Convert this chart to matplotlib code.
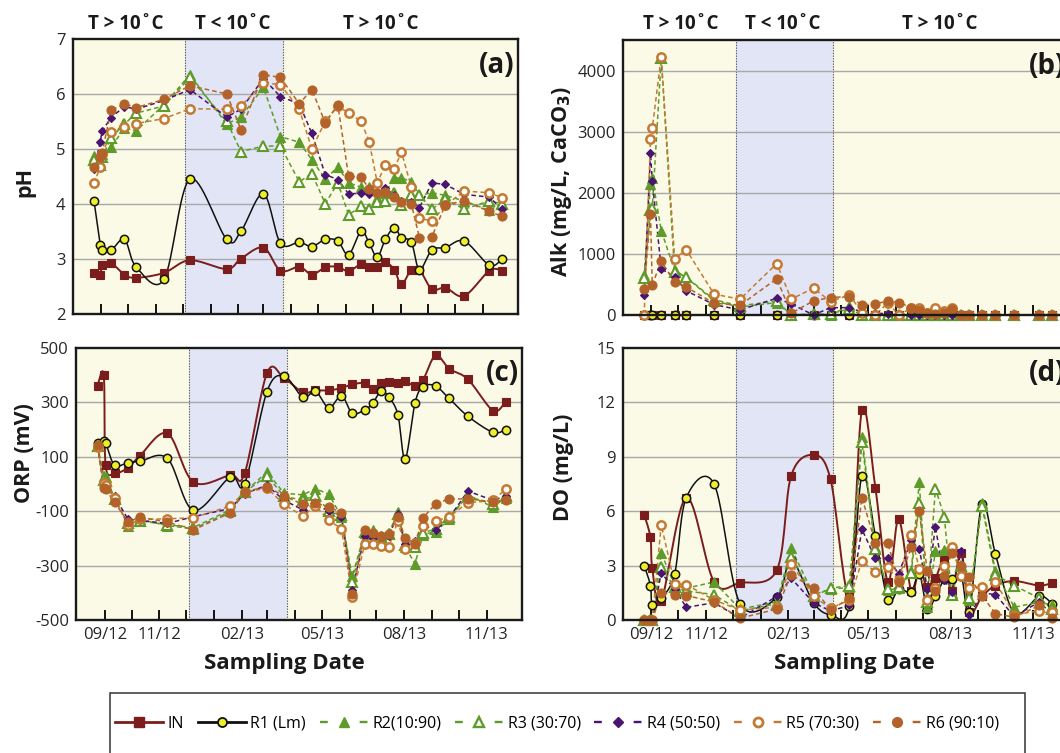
import numpy as np
import pandas as pd
import matplotlib
matplotlib.use('Agg')
import matplotlib.pyplot as plt
import matplotlib.dates as mdates
from matplotlib.lines import Line2D
from matplotlib.patches import Rectangle
from matplotlib.ticker import FuncFormatter, FixedLocator

plt.rcParams['font.family'] = ['Open Sans', 'DejaVu Sans']
plt.rcParams['axes.unicode_minus'] = False

# ---------------- data ----------------
dates = pd.to_datetime([
    '2012-08-24', '2012-08-31', '2012-09-02', '2012-09-12', '2012-09-27', '2012-10-10',
    '2012-11-10', '2012-12-09', '2013-01-19', '2013-02-04', '2013-03-01', '2013-03-20',
    '2013-04-10', '2013-04-24', '2013-05-09', '2013-05-23', '2013-06-04', '2013-06-18',
    '2013-06-27', '2013-07-06', '2013-07-15', '2013-07-25', '2013-08-02', '2013-08-13',
    '2013-08-22', '2013-09-05', '2013-09-20', '2013-10-11', '2013-11-08', '2013-11-22'])
cold_start = pd.Timestamp('2012-12-04')
cold_end = pd.Timestamp('2013-03-23')

series_names = ['IN', 'R1 (Lm)', 'R2(10:90)', 'R3 (30:70)', 'R4 (50:50)', 'R5 (70:30)', 'R6 (90:10)']
month_labels = ['09/12', '11/12', '02/13', '05/13', '08/13', '11/13']

# pH
ph_in = [2.74, 2.71, 2.89, 2.92, 2.71, 2.65, 2.74, 2.97, 2.81, 3.00, 3.20, 2.78, 2.85, 2.71, 2.84,
         2.85, 2.77, 2.90, 2.85, 2.85, 2.93, 2.80, 2.53, 2.80, 2.80, 2.44, 2.47, 2.32, 2.78, 2.78]
ph_r1 = [4.05, 3.25, 3.15, 3.15, 3.35, 2.85, 2.62, 4.45, 3.35, 3.50, 4.18, 3.28, 3.30, 3.22, 3.35,
         3.32, 3.07, 3.50, 3.28, 3.03, 3.35, 3.56, 3.38, 3.30, 2.80, 3.16, 3.20, 3.32, 2.88, 2.99]
ph_r2 = [4.87, 4.75, 4.90, 5.03, 5.38, 5.33, 5.80, 6.35, 5.45, 5.58, 6.12, 5.22, 5.12, 4.80, 4.45,
         4.67, 4.38, 4.30, 4.30, 4.10, 4.20, 4.47, 4.47, 4.40, 4.15, 4.20, 4.15, 4.05, 3.88, 4.00]
ph_r3 = [4.80, 4.70, 4.85, 5.20, 5.45, 5.65, 5.78, 6.30, 5.50, 4.95, 5.05, 5.05, 4.40, 4.55, 4.00,
         4.38, 3.80, 3.95, 3.90, 4.03, 4.05, 4.20, 3.98, 4.15, 4.15, 3.90, 4.08, 3.90, 4.05, 4.00]
ph_r4 = [4.63, 5.13, 5.32, 5.57, 5.77, 5.72, 5.88, 6.08, 5.58, 5.72, 6.28, 5.95, 5.82, 5.28, 4.53,
         4.44, 4.18, 4.19, 4.18, 4.20, 4.29, 4.15, 4.05, 4.03, 3.93, 4.38, 4.35, 4.17, 4.12, 3.90]
ph_r5 = [4.37, 4.67, 4.90, 5.30, 5.40, 5.46, 5.55, 5.73, 5.72, 5.78, 6.20, 6.17, 5.72, 5.00, 5.50,
         5.78, 5.65, 5.50, 5.13, 4.38, 4.71, 4.64, 4.94, 4.30, 3.74, 3.68, 3.97, 4.23, 4.20, 4.11]
ph_r6 = [4.67, 4.85, 4.93, 5.70, 5.82, 5.75, 5.90, 6.15, 6.00, 5.35, 6.35, 6.30, 5.82, 6.08, 5.47,
         5.80, 4.50, 4.48, 4.27, 4.20, 4.22, 4.12, 4.03, 4.00, 3.38, 3.40, 3.98, 4.05, 3.86, 3.77]

# Alkalinity (mg/L as CaCO3)
alk_in = [0] * 30
alk_r1 = [0] * 30
alk_r2 = [650, 2150, 2250, 1380, 730, 616, 230, 130, 204, 0, 20, 0, 150, 0, 0,
          0, 0, 0, 0, 0, 0, 0, 0, 0, 0, 0, 0, 0, 0, 0]
alk_r3 = [600, 1717, 1750, 4200, 700, 620, 250, 150, 230, 0, 10, 20, 100, 0, 0,
          0, 0, 0, 0, 0, 0, 0, 0, 0, 0, 0, 0, 0, 0, 0]
alk_r4 = [320, 2650, 2200, 754, 627, 396, 170, 83, 275, 182, 0, 121, 120, 50, 30,
          20, 0, 0, 0, 0, 0, 0, 0, 0, 0, 0, 0, 0, 0, 0]
alk_r5 = [0, 2877, 3053, 4225, 924, 1067, 341, 259, 842, 259, 440, 220, 330, 40, 0,
          200, 0, 110, 110, 40, 110, 60, 110, 0, 0, 0, 0, 0, 0, 0]
alk_r6 = [430, 1650, 495, 880, 540, 457, 193, 160, 594, 30, 231, 286, 302, 165, 181,
          231, 204, 120, 80, 30, 20, 40, 100, 0, 0, 0, 0, 0, 0, 0]

# ORP (mV)
orp_in = [362, 399, 69, 39, 60, 103, 186, 7, 33, 39, 408, 389, 337, 344, 344,
          353, 366, 371, 349, 371, 376, 373, 377, 362, 383, 473, 424, 385, 270, 303]
orp_r1 = [150, 158, 152, 69, 79, 83, 94, -97, 26, 1, 340, 397, 319, 341, 280,
          325, 260, 273, 297, 341, 319, 254, 91, 297, 358, 360, 315, 249, 190, 200]
orp_r2 = [140, 30, 25, -50, -153, -130, -153, -165, -101, -30, 44, -34, -40, -17, -38,
          -120, -340, -180, -170, -190, -180, -102, -230, -294, -186, -175, -130, -40, -85, -50]
orp_r3 = [138, 15, 10, -55, -145, -135, -150, -160, -95, -30, 30, -45, -60, -40, -100,
          -115, -360, -175, -185, -195, -185, -110, -225, -230, -180, -165, -120, -45, -75, -45]
orp_r4 = [140, -10, -12, -45, -130, -134, -145, -120, -90, -35, -5, -60, -95, -75, -100,
          -120, -390, -190, -200, -200, -190, -110, -220, -210, -150, -170, -125, -26, -60, -45]
orp_r5 = [135, 2, -5, -53, -150, -130, -128, -124, -81, -30, -15, -75, -118, -80, -134,
          -164, -414, -220, -220, -227, -230, -135, -239, -217, -155, -137, -120, -69, -60, -20]
orp_r6 = [145, -16, -20, -67, -140, -122, -140, -169, -106, -28, -10, -44, -75, -70, -85,
          -105, -405, -170, -180, -190, -183, -120, -198, -220, -124, -73, -55, -55, -65, -59]

# DO (mg/L)
do_in = [5.8, 4.55, 2.86, 1.03, np.nan, 6.75, 2.1, 2.05, 2.75, 7.95, 9.1, 7.75, 1.5, 11.6, 7.3,
         2.1, 5.55, 1.6, 2.8, 1.8, 2.3, 3.3, 1.6, 3.7, 0.45, 1.3, 1.9, 2.15, 1.9, 2.05]
do_r1 = [3.0, 1.9, 0.85, 1.2, 2.55, 6.75, 7.5, 0.9, 1.25, 3.3, 0.95, 0.3, 0.75, 7.95, 4.65,
         1.1, 1.7, 1.55, 2.55, 0.6, 1.3, 2.25, 2.25, 2.4, 0.45, 6.4, 3.65, 0.4, 1.3, 0.9]
do_r2 = [0, 0, 0, 3.7, 1.9, 1.75, 2.1, 0.6, 1.0, 3.95, 1.4, 1.7, 1.8, 10.1, 4.0,
         1.65, 1.75, 2.7, 7.6, 0.7, 3.8, 3.85, 1.5, 3.0, 1.1, 6.45, 2.7, 0.7, 1.0, 0.8]
do_r3 = [0, 0, 0, 2.9, 1.8, 1.6, 1.4, 0.5, 0.9, 3.5, 1.3, 1.75, 1.9, 9.8, 3.9,
         1.7, 1.8, 2.6, 6.45, 1.0, 7.25, 5.7, 1.4, 3.0, 1.2, 6.3, 2.5, 1.9, 1.2, 0.6]
do_r4 = [0, 0, 0, 2.6, 1.7, 0.7, 0.95, 0.1, 1.3, 2.3, 0.95, 0.5, 0.8, 5.0, 3.4,
         3.4, 2.55, 4.4, 3.9, 1.7, 5.15, 2.2, 1.55, 3.8, 0.25, 1.5, 1.4, 0.2, 1.0, 0.3]
do_r5 = [0, 0, 0, 5.25, 2.0, 1.95, 1.1, 0.55, 0.7, 3.1, 1.3, 0.65, 1.1, 3.25, 2.65,
         2.9, 2.2, 4.7, 2.8, 1.1, 1.75, 3.0, 4.0, 2.45, 1.75, 1.8, 2.1, 0.3, 0.5, 0.45]
do_r6 = [0, 0, 0, 1.5, 1.4, 1.35, 1.0, 0.1, 0.6, 2.5, 1.75, 0.55, 1.2, 6.75, 4.25,
         4.25, 2.1, 4.0, 6.0, 2.7, 1.6, 2.4, 3.7, 3.0, 2.35, 1.35, 0.35, 0.15, 0.8, 0.1]

# ---------------- styles ----------------
C_IN = '#7b1d1d'
C_R1 = '#111111'
C_GREEN = '#5f9b2b'
C_PURPLE = '#4a1470'
C_R5 = '#c47a32'
C_R6 = '#b3622a'
BG = '#fafae6'
SHADE = '#e1e5f5'

styles = [
    dict(color=C_IN, marker='s', ms=6, mfc=C_IN, mec=C_IN, mew=0.8, ls='-', lw=1.4, smooth=True),
    dict(color=C_R1, marker='o', ms=6, mfc='#eeee2a', mec='#111111', mew=1.1, ls='-', lw=1.1, smooth=True),
    dict(color=C_GREEN, marker='^', ms=6.5, mfc=C_GREEN, mec=C_GREEN, mew=0.8, ls=(0, (3, 2)), lw=1.1, smooth=False),
    dict(color=C_GREEN, marker='^', ms=6.5, mfc='white', mec=C_GREEN, mew=1.5, ls=(0, (3, 2)), lw=1.1, smooth=False),
    dict(color=C_PURPLE, marker='D', ms=4.5, mfc=C_PURPLE, mec=C_PURPLE, mew=0.8, ls=(0, (3, 2)), lw=1.1, smooth=False),
    dict(color=C_R5, marker='o', ms=6, mfc='white', mec=C_R5, mew=1.8, ls=(0, (3, 2)), lw=1.1, smooth=False),
    dict(color=C_R6, marker='o', ms=6.5, mfc=C_R6, mec=C_R6, mew=0.8, ls=(0, (3, 2)), lw=1.1, smooth=False),
]

W, H = 1060, 753
fig = plt.figure(figsize=(W / 100, H / 100), dpi=100)


def px_axes(l, t, r, b):
    return fig.add_axes([l / W, 1 - b / H, (r - l) / W, (b - t) / H])


ax_a = px_axes(72.5, 39, 518, 313.5)
ax_b = px_axes(622.7, 40, 1068, 315)
ax_c = px_axes(76, 348, 521.7, 620)
ax_d = px_axes(622.7, 348, 1068, 620)

xlim = (pd.Timestamp('2012-07-31'), pd.Timestamp('2013-12-10'))
tick_dates = pd.date_range('2012-09-01', '2013-11-01', freq='MS')


def smooth_curve(ax, xs, ys, n=16):
    xn = mdates.date2num(xs)
    P = ax.transData.transform(np.column_stack([xn, ys]))
    if len(P) < 3:
        return xs, ys
    Pp = np.vstack([P[0], P, P[-1]])
    out = []
    for i in range(1, len(Pp) - 2):
        p0, p1, p2, p3 = Pp[i - 1], Pp[i], Pp[i + 1], Pp[i + 2]
        b1 = p1 + (p2 - p0) / 6.0
        b2 = p2 - (p3 - p1) / 6.0
        t = np.linspace(0, 1, n, endpoint=(i == len(Pp) - 3))[:, None]
        seg = ((1 - t) ** 3) * p1 + 3 * ((1 - t) ** 2) * t * b1 + 3 * (1 - t) * t ** 2 * b2 + t ** 3 * p2
        out.append(seg)
    curve = np.vstack(out)
    back = ax.transData.inverted().transform(curve)
    return mdates.num2date(back[:, 0]), back[:, 1]


def fmt_month(v, pos):
    d = mdates.num2date(v)
    lab = d.strftime('%m/%y')
    return lab if lab in month_labels else ''


def setup(ax, ylim, yticks, grid_vals, show_xlabels):
    ax.set_facecolor(BG)
    ax.set_xlim(*xlim)
    ax.set_ylim(*ylim)
    ax.axvspan(cold_start, cold_end, color=SHADE, zorder=0.5, lw=0)
    for d in (cold_start, cold_end):
        ax.axvline(d, color='#555555', ls=(0, (1.2, 1.2)), lw=0.8, zorder=0.6)
    for g in grid_vals:
        ax.axhline(g, color='#a8a8a8', lw=1.0, zorder=0.7)
    ax.set_yticks(yticks)
    ax.xaxis.set_major_locator(FixedLocator(mdates.date2num(tick_dates)))
    if show_xlabels:
        ax.xaxis.set_major_formatter(FuncFormatter(fmt_month))
    else:
        ax.xaxis.set_major_formatter(FuncFormatter(lambda v, p: ''))
    ax.tick_params(axis='x', direction='in', length=7.5, width=1.3, color='black',
                   labelsize=12, labelcolor='#262626', pad=5, bottom=True, top=False)
    ax.tick_params(axis='y', length=0, labelsize=12, labelcolor='#262626', pad=5)
    for s in ax.spines.values():
        s.set_linewidth(1.7)
        s.set_color('#1a1a1a')
        s.set_zorder(5)


def draw(ax, values_list):
    for vals, st in zip(values_list, styles):
        y = np.asarray(vals, dtype=float)
        m = ~np.isnan(y)
        xs = dates[m]
        ys = y[m]
        if st['smooth']:
            cx, cy = smooth_curve(ax, xs, ys)
            ax.plot(cx, cy, color=st['color'], lw=st['lw'], ls=st['ls'], zorder=2)
        else:
            ax.plot(xs, ys, color=st['color'], lw=st['lw'], ls=st['ls'], zorder=2)
        ax.plot(xs, ys, ls='none', marker=st['marker'], ms=st['ms'], mfc=st['mfc'],
                mec=st['mec'], mew=st['mew'], zorder=3, clip_on=False)


setup(ax_a, (2, 7), [2, 3, 4, 5, 6, 7], [3, 4, 5, 6], False)
setup(ax_b, (0, 4500), [0, 1000, 2000, 3000, 4000], [1000, 2000, 3000, 4000], False)
setup(ax_c, (-500, 500), [-500, -300, -100, 100, 300, 500], [-300, -100, 100, 300], True)
setup(ax_d, (0, 15), [0, 3, 6, 9, 12, 15], [3, 6, 9, 12], True)

draw(ax_a, [ph_in, ph_r1, ph_r2, ph_r3, ph_r4, ph_r5, ph_r6])
draw(ax_b, [alk_in, alk_r1, alk_r2, alk_r3, alk_r4, alk_r5, alk_r6])
draw(ax_c, [orp_in, orp_r1, orp_r2, orp_r3, orp_r4, orp_r5, orp_r6])
draw(ax_d, [do_in, do_r1, do_r2, do_r3, do_r4, do_r5, do_r6])

# panel letters (the right-hand ones run past the figure edge, as in the reference)
for ax, lab in ((ax_a, '(a)'), (ax_b, '(b)'), (ax_c, '(c)'), (ax_d, '(d)')):
    ax.text(0.993, 0.905, lab, transform=ax.transAxes, ha='right', va='center',
            fontsize=20, fontweight='bold', color='#1a1a1a', zorder=6)

# y labels
ylab_kw = dict(rotation=90, ha='center', va='center', fontsize=15.5, fontweight='bold', color='#1a1a1a')
fig.text(25 / W, 1 - 182 / H, 'pH', **ylab_kw)
fig.text(561 / W, 1 - 182 / H, 'Alk (mg/L, CaCO$_\\mathbf{3}$)', **ylab_kw)
fig.text(24 / W, 1 - 453 / H, 'ORP (mV)', **ylab_kw)
fig.text(564 / W, 1 - 467 / H, 'DO (mg/L)', **ylab_kw)

# x labels
for xc in (284, 854):
    fig.text(xc / W, 1 - 663 / H, 'Sampling Date', ha='center', va='center',
             fontsize=16, fontweight='bold', color='#1a1a1a')

# temperature headers
hdr_kw = dict(ha='center', va='center', fontsize=13.5, fontweight='bold', color='#1a1a1a')
for xc, txt in ((126, 'T > 10\u02daC'), (233, 'T < 10\u02daC'), (381, 'T > 10\u02daC'),
                (681, 'T > 10\u02daC'), (783, 'T < 10\u02daC'), (940, 'T > 10\u02daC')):
    fig.text(xc / W, 1 - 24 / H, txt, **hdr_kw)

# legend box
fig.patches.append(Rectangle((110 / W, -0.02), (1025 - 110) / W, 0.02 + (1 - 693 / H),
                             transform=fig.transFigure, fill=False, ec='#333333', lw=1.1))

handles = []
for i, st in enumerate(styles):
    if st['smooth']:
        ls = '-'
        lw = 2.0
    else:
        ls = (0, (3.3, 13.5))
        lw = 1.7
    handles.append(Line2D([0], [0], color=st['color'], lw=lw, ls=ls, marker=st['marker'],
                          ms=st['ms'] + 0.5, mfc=st['mfc'], mec=st['mec'], mew=st['mew'] + 0.2))
fig.legend(handles, series_names, loc='center', bbox_to_anchor=(557 / W, 1 - 724 / H),
           ncol=7, frameon=False, fontsize=11.5, handlelength=3.0, handletextpad=0.3,
           columnspacing=0.85, borderpad=0.2)

fig.savefig('out.png', dpi=100)
